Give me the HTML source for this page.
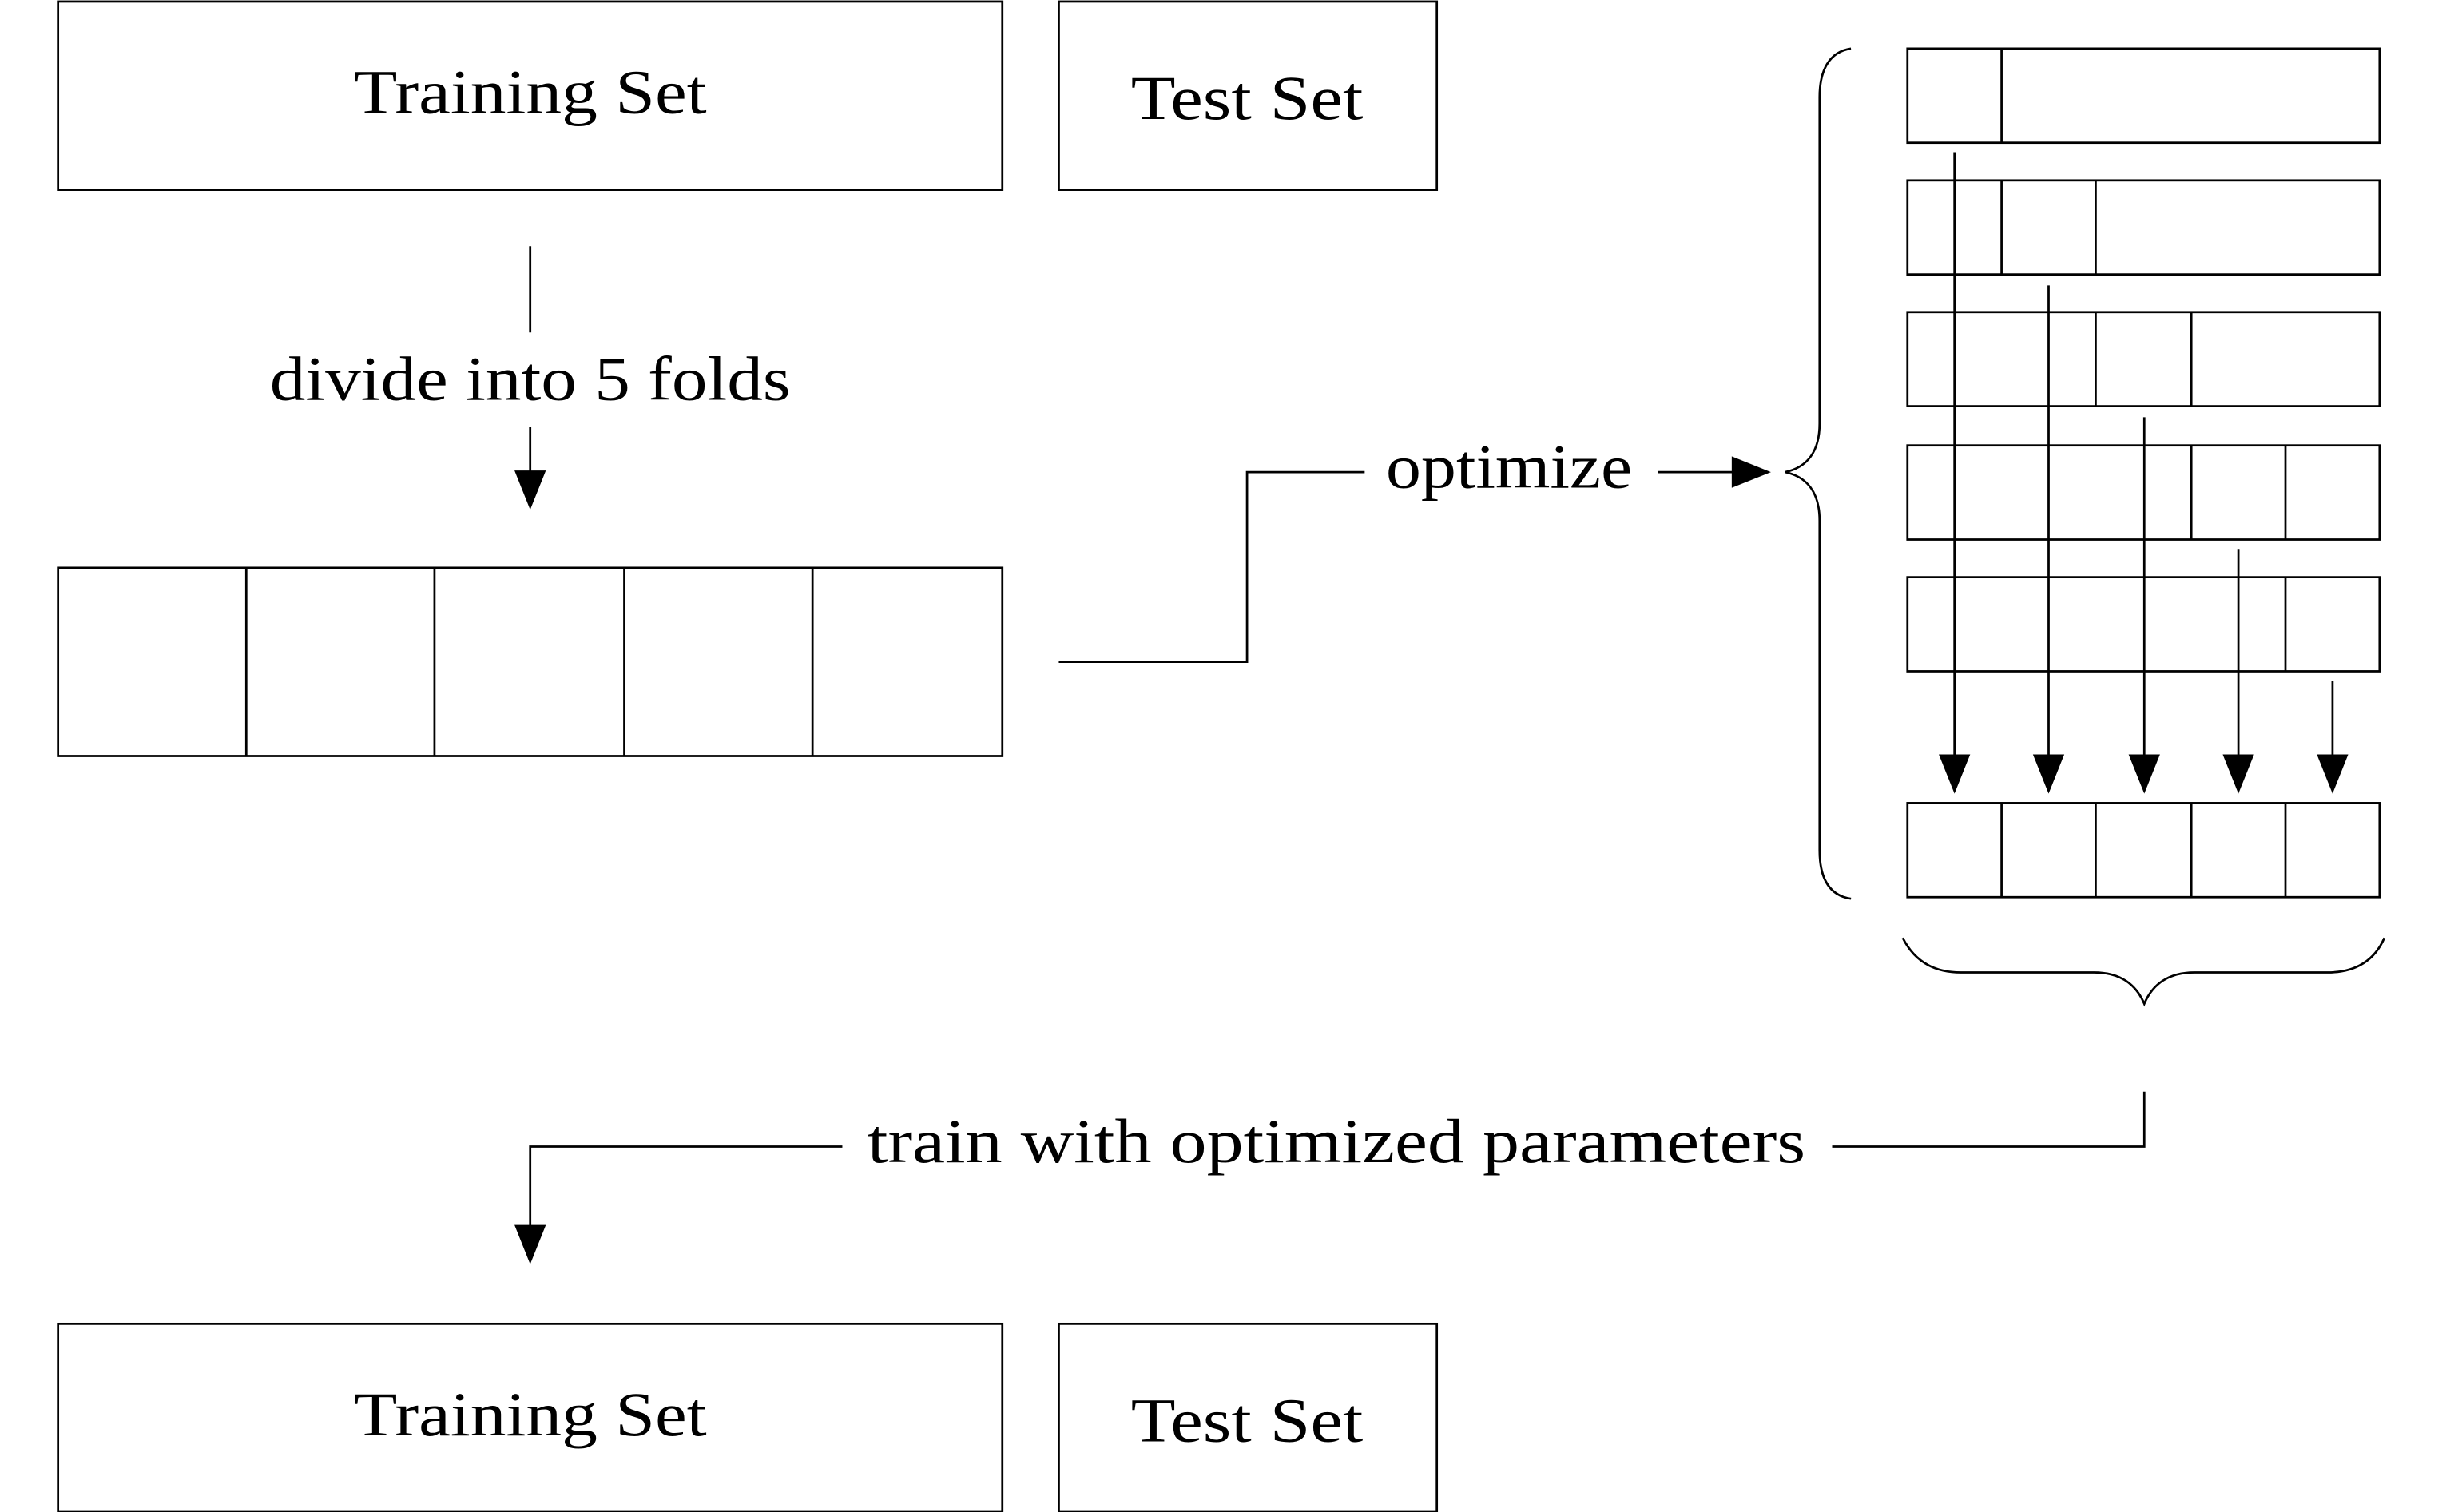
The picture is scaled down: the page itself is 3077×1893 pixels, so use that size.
<!DOCTYPE html>
<html><head><meta charset="utf-8"><style>html,body{margin:0;padding:0;background:#fff}svg{display:block}</style></head>
<body>
<svg width="3077" height="1893" viewBox="0 0 1567 964" preserveAspectRatio="none" xmlns="http://www.w3.org/2000/svg">
<g fill="none" stroke="#000" stroke-width="1.4">
<rect x="37" y="1" width="602" height="120"/>
<rect x="675" y="1" width="241" height="120"/>
<line x1="338" y1="157" x2="338" y2="212"/>
<line x1="338" y1="272" x2="338" y2="305"/>
<rect x="37" y="362" width="602" height="120"/>
<line x1="157" y1="362" x2="157" y2="482"/>
<line x1="277" y1="362" x2="277" y2="482"/>
<line x1="398" y1="362" x2="398" y2="482"/>
<line x1="518" y1="362" x2="518" y2="482"/>
<polyline points="675,422 795,422 795,301 870,301"/>
<line x1="1057" y1="301" x2="1108" y2="301"/>
<path d="M1180,31 C1166,33 1160,45 1160,62 L1160,270 C1160,288 1152,298 1138,301 C1152,304 1160,314 1160,332 L1160,542 C1160,560 1166,571 1180,573"/>
<rect x="1216" y="31" width="301" height="60"/><line x1="1276" y1="31" x2="1276" y2="91"/>
<rect x="1216" y="115" width="301" height="60"/><line x1="1276" y1="115" x2="1276" y2="175"/><line x1="1336" y1="115" x2="1336" y2="175"/>
<rect x="1216" y="199" width="301" height="60"/><line x1="1336" y1="199" x2="1336" y2="259"/><line x1="1397" y1="199" x2="1397" y2="259"/>
<rect x="1216" y="284" width="301" height="60"/><line x1="1397" y1="284" x2="1397" y2="344"/><line x1="1457" y1="284" x2="1457" y2="344"/>
<rect x="1216" y="368" width="301" height="60"/><line x1="1457" y1="368" x2="1457" y2="428"/>
<rect x="1216" y="512" width="301" height="60"/>
<line x1="1276" y1="512" x2="1276" y2="572"/><line x1="1336" y1="512" x2="1336" y2="572"/><line x1="1397" y1="512" x2="1397" y2="572"/><line x1="1457" y1="512" x2="1457" y2="572"/>
<line x1="1246" y1="97" x2="1246" y2="485"/>
<line x1="1306" y1="182" x2="1306" y2="485"/>
<line x1="1367" y1="266" x2="1367" y2="485"/>
<line x1="1427" y1="350" x2="1427" y2="485"/>
<line x1="1487" y1="434" x2="1487" y2="485"/>
<path d="M1213,598 C1220,612 1232,620 1250,620 L1335,620 C1352,620 1362,628 1367,640 C1372,628 1382,620 1399,620 L1484,620 C1502,620 1514,612 1520,598"/>
<polyline points="1367,696 1367,731 1168,731"/>
<polyline points="537,731 338,731 338,785"/>
<rect x="37" y="844" width="602" height="120"/>
<rect x="675" y="844" width="241" height="120"/>
</g>
<g fill="#000">
<polygon points="328,300 348,300 338,325"/>
<polygon points="1104,291 1104,311 1129,301"/>
<polygon points="1236,481 1256,481 1246,506"/>
<polygon points="1296,481 1316,481 1306,506"/>
<polygon points="1357,481 1377,481 1367,506"/>
<polygon points="1417,481 1437,481 1427,506"/>
<polygon points="1477,481 1497,481 1487,506"/>
<polygon points="328,781 348,781 338,806"/>
</g>
<g font-family="'Liberation Serif', serif" font-size="40" fill="#000" text-anchor="middle">
<text x="338" y="72" textLength="225" lengthAdjust="spacingAndGlyphs">Training Set</text>
<text x="795" y="76" textLength="148" lengthAdjust="spacingAndGlyphs">Test Set</text>
<text x="338" y="255" textLength="332" lengthAdjust="spacingAndGlyphs">divide into 5 folds</text>
<text x="962" y="311" textLength="157" lengthAdjust="spacingAndGlyphs">optimize</text>
<text x="852" y="741" textLength="598" lengthAdjust="spacingAndGlyphs">train with optimized parameters</text>
<text x="338" y="915" textLength="225" lengthAdjust="spacingAndGlyphs">Training Set</text>
<text x="795" y="919" textLength="148" lengthAdjust="spacingAndGlyphs">Test Set</text>
</g>
</svg>
</body></html>
